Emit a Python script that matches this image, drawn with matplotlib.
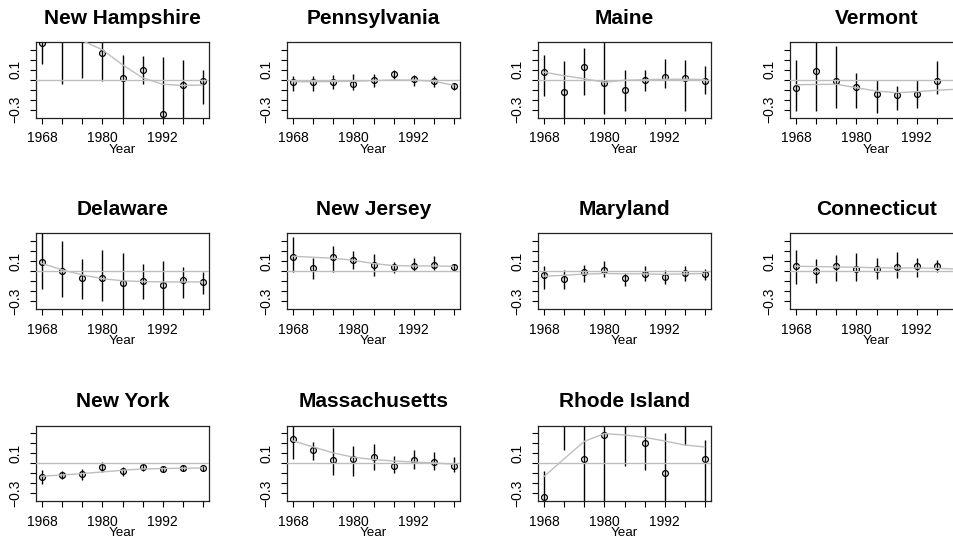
import matplotlib
matplotlib.use("Agg")
import matplotlib.pyplot as plt

plt.rcParams['font.family'] = ['Liberation Sans', 'DejaVu Sans']

years = [1968, 1972, 1976, 1980, 1984, 1988, 1992, 1996, 2000]
year_labels = ['1968', '', '', '1980', '', '', '1992', '', '']
y_ticks = [-0.3, -0.2, -0.1, 0.0, 0.1, 0.2, 0.3]
y_labels = ['\u22120.3', '', '', '', '0.1', '', '']

states = ['New Hampshire', 'Pennsylvania', 'Maine', 'Vermont',
          'Delaware', 'New Jersey', 'Maryland', 'Connecticut',
          'New York', 'Massachusetts', 'Rhode Island']

# point estimates, interval ends and fitted trend, one row per state
estimates = [
    [0.365, 0.50, 0.45, 0.267, 0.02, 0.097, -0.343, -0.057, -0.01],
    [-0.023, -0.023, -0.02, -0.04, 0.0, 0.053, 0.003, -0.013, -0.063],
    [0.077, -0.127, 0.123, -0.03, -0.1, 0.0, 0.03, 0.02, -0.01],
    [-0.083, 0.087, -0.013, -0.073, -0.143, -0.157, -0.147, -0.017, -0.09],
    [0.093, 0.007, -0.07, -0.063, -0.117, -0.093, -0.133, -0.087, -0.107],
    [0.143, 0.037, 0.14, 0.113, 0.067, 0.043, 0.057, 0.067, 0.04],
    [-0.04, -0.077, -0.01, 0.013, -0.07, -0.023, -0.06, -0.017, -0.03],
    [0.057, 0.003, 0.057, 0.027, 0.027, 0.043, 0.053, 0.053, 0.03],
    [-0.133, -0.113, -0.11, -0.037, -0.08, -0.037, -0.057, -0.043, -0.05],
    [0.24, 0.13, 0.03, 0.04, 0.06, -0.027, 0.033, 0.013, -0.027],
    [-0.333, 0.5, 0.043, 0.283, 0.45, 0.207, -0.1, 0.45, 0.043],
]
lower = [
    [0.16, -0.04, 0.017, -0.013, -0.45, -0.04, -0.45, -0.45, -0.243],
    [-0.113, -0.113, -0.093, -0.1, -0.073, 0.007, -0.063, -0.073, -0.1],
    [-0.167, -0.45, -0.153, -0.34, -0.31, -0.113, -0.083, -0.31, -0.143],
    [-0.317, -0.31, -0.28, -0.28, -0.333, -0.307, -0.28, -0.14, -0.25],
    [-0.18, -0.26, -0.273, -0.3, -0.45, -0.273, -0.42, -0.27, -0.223],
    [-0.007, -0.077, -0.01, 0.02, -0.047, -0.013, 0.0, 0.01, 0.01],
    [-0.177, -0.173, -0.107, -0.057, -0.143, -0.097, -0.123, -0.097, -0.087],
    [-0.127, -0.113, -0.093, -0.093, -0.077, -0.063, -0.057, -0.003, -0.04],
    [-0.203, -0.153, -0.163, -0.087, -0.123, -0.08, -0.087, -0.077, -0.077],
    [0.043, 0.033, -0.117, -0.13, -0.07, -0.1, -0.06, -0.07, -0.09],
    [-0.5, 0.133, -0.5, -0.5, -0.023, -0.067, -0.45, 0.183, -0.45],
]
upper = [
    [0.57, 0.95, 0.85, 0.55, 0.25, 0.24, 0.227, 0.20, 0.10],
    [0.04, 0.04, 0.05, 0.06, 0.06, 0.1, 0.047, 0.04, -0.033],
    [0.243, 0.183, 0.32, 0.45, 0.1, 0.093, 0.21, 0.2, 0.14],
    [0.2, 0.45, 0.337, 0.07, -0.007, -0.06, -0.007, 0.19, 0.06],
    [0.45, 0.3, 0.127, 0.21, 0.18, 0.07, 0.103, 0.04, -0.007],
    [0.343, 0.13, 0.25, 0.2, 0.17, 0.09, 0.133, 0.157, 0.073],
    [0.057, 0.017, 0.067, 0.1, -0.017, 0.05, 0.01, 0.05, 0.027],
    [0.217, 0.123, 0.167, 0.18, 0.137, 0.19, 0.137, 0.11, 0.1],
    [-0.063, -0.073, -0.057, 0.017, -0.037, 0.0, -0.03, -0.013, -0.023],
    [0.45, 0.213, 0.35, 0.173, 0.193, 0.073, 0.133, 0.113, 0.063],
    [-0.073, 0.9, 0.9, 0.9, 0.9, 0.9, 0.307, 0.9, 0.237],
]
smooth = [
    [0.55, 0.50, 0.39, 0.30, 0.15, 0.02, -0.045, -0.057, -0.053],
    [-0.02, -0.02, -0.018, -0.015, -0.008, -0.003, -0.003, -0.015, -0.055],
    [0.075, 0.04, 0.01, -0.025, -0.005, 0.0, 0.005, 0.005, 0.003],
    [-0.05, -0.047, -0.045, -0.08, -0.113, -0.13, -0.12, -0.105, -0.095],
    [0.077, 0.013, -0.037, -0.075, -0.095, -0.103, -0.107, -0.107, -0.107],
    [0.15, 0.14, 0.13, 0.11, 0.077, 0.057, 0.053, 0.053, 0.05],
    [-0.05, -0.04, -0.028, -0.023, -0.025, -0.027, -0.03, -0.027, -0.023],
    [0.05, 0.047, 0.043, 0.04, 0.035, 0.033, 0.033, 0.03, 0.022],
    [-0.13, -0.117, -0.103, -0.087, -0.07, -0.057, -0.053, -0.05, -0.047],
    [0.223, 0.163, 0.103, 0.06, 0.037, 0.023, 0.013, 0.003, -0.01],
    [-0.13, 0.047, 0.22, 0.297, 0.283, 0.26, 0.223, 0.183, 0.163],
]

W, H = 954, 540
fig = plt.figure(figsize=(W / 100, H / 100), dpi=100)
fig.patch.set_facecolor('white')

col_left = [36, 287, 538, 790]
row_top = [42, 233.5, 425.5]
ax_w, ax_h = 173, 75.5
grey = '#bebebe'

for i, name in enumerate(states):
    r, c = divmod(i, 4)
    left = col_left[c] / W
    bottom = 1 - (row_top[r] + ax_h) / H
    ax = fig.add_axes([left, bottom, ax_w / W, ax_h / H])

    ax.vlines(years, lower[i], upper[i], color='black', lw=1.0, zorder=2)
    ax.plot(years, estimates[i], 'o', mfc='none', mec='black', ms=4.2,
            mew=0.9, zorder=3)
    ax.axhline(0, color=grey, lw=1.0, zorder=4)
    ax.plot(years, smooth[i], color=grey, lw=1.0, zorder=4)

    ax.set_xlim(1966.72, 2001.28)
    ax.set_ylim(-0.378, 0.378)
    ax.set_xticks(years)
    ax.set_xticklabels(year_labels)
    ax.set_yticks(y_ticks)
    ax.set_yticklabels(y_labels, rotation=90, va='center')
    ax.tick_params(axis='both', length=4.5, width=0.8, labelsize=10,
                   direction='out')
    ax.tick_params(axis='x', pad=5.5)
    ax.tick_params(axis='y', pad=5.5)
    for sp in ax.spines.values():
        sp.set_linewidth(0.9)
        sp.set_color('#222222')

    ax.set_title(name, fontsize=15, fontweight='bold', pad=13)
    ax.set_xlabel('Year', fontsize=9.6)
    ax.xaxis.set_label_coords(0.5, -0.43)
    ax.xaxis.label.set_va('center')

fig.savefig('out.png', dpi=100)
